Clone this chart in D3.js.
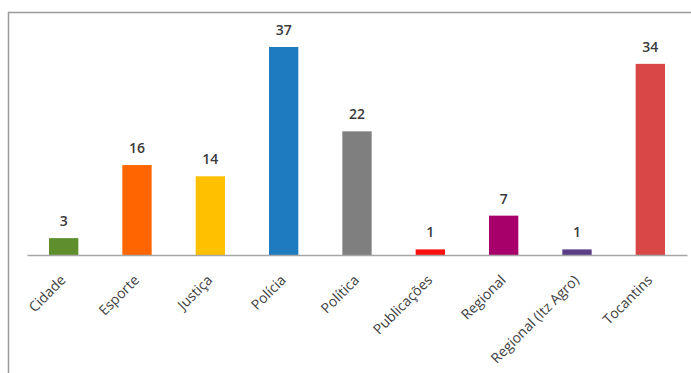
<!DOCTYPE html>
<html>
<head>
<meta charset="utf-8">
<script src="https://cdn.jsdelivr.net/npm/d3@7"></script>
<style>
  html, body { margin: 0; padding: 0; background: #ffffff; }
  svg { display: block; }
</style>
</head>
<body>
<svg id="chart" width="691" height="373"></svg>
<script>
const categories = ["Cidade", "Esporte", "Justiça", "Polícia", "Política", "Publicações", "Regional", "Regional (Itz Agro)", "Tocantins"];
const values = [3, 16, 14, 37, 22, 1, 7, 1, 34];
const colors = ["#5e8f2c", "#ff6600", "#ffc000", "#1f7bc0", "#7f7f7f", "#ff1010", "#a8006a", "#5b3f86", "#d94747"];

const svg = d3.select("#chart");

// outer frame
svg.append("rect")
  .attr("x", 8.5).attr("y", 12.5)
  .attr("width", 700).attr("height", 400)
  .attr("fill", "#ffffff")
  .attr("stroke", "#9a9a9a")
  .attr("stroke-width", 1.5);

const x = d3.scaleBand()
  .domain(categories)
  .range([27, 687])
  .paddingInner(0.6)
  .paddingOuter(0.3);

const y = d3.scaleLinear()
  .domain([0, 37])
  .range([255, 47]);

const font = "'Open Sans', 'Noto Sans', sans-serif";

// bars
svg.selectAll("rect.bar")
  .data(categories)
  .enter().append("rect")
  .attr("class", "bar")
  .attr("x", d => x(d))
  .attr("y", (d, i) => y(values[i]))
  .attr("width", x.bandwidth())
  .attr("height", (d, i) => y(0) - y(values[i]))
  .attr("fill", (d, i) => colors[i]);

// baseline axis
const axis = d3.axisBottom(x).tickSize(0).tickPadding(0);
const gAxis = svg.append("g")
  .attr("transform", `translate(0,${y(0)})`)
  .call(axis);
gAxis.select(".domain")
  .attr("stroke", "#a6a6a6")
  .attr("stroke-width", 1.5);
gAxis.selectAll(".tick text")
  .attr("font-family", font)
  .attr("font-size", 14)
  .attr("fill", "#404040")
  .attr("text-anchor", "end")
  .attr("dy", 0)
  .attr("transform", "translate(3,26) rotate(-45)");

// value labels
svg.selectAll("text.val")
  .data(categories)
  .enter().append("text")
  .attr("class", "val")
  .attr("x", d => x(d) + x.bandwidth() / 2)
  .attr("y", (d, i) => y(values[i]) - 12)
  .attr("text-anchor", "middle")
  .attr("font-family", font)
  .attr("font-size", 14)
  .attr("font-weight", 600)
  .attr("fill", "#3a3a3a")
  .text((d, i) => values[i]);
</script>
</body>
</html>
